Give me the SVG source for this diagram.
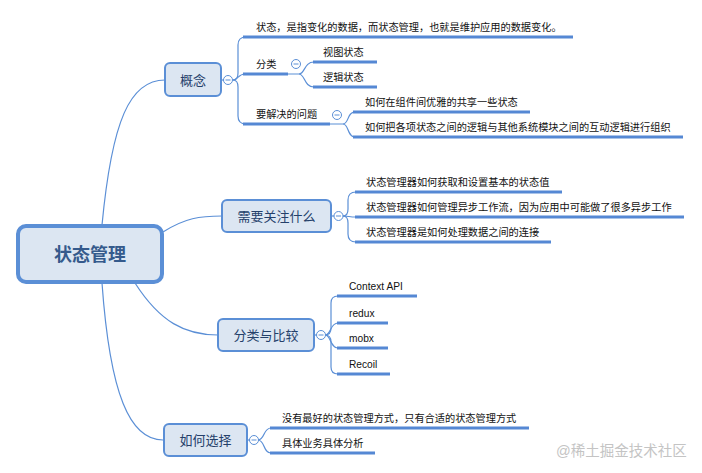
<svg xmlns="http://www.w3.org/2000/svg" width="702" height="473" viewBox="0 0 702 473">
<style>
.c{fill:none;stroke:#5b8fd6;stroke-width:1.2}
.u{fill:none;stroke:#5588d4;stroke-width:3}
.box{fill:#dce6f2;stroke:#5b8fd6;stroke-width:2}
.t{font-family:"Liberation Sans","Noto Sans CJK SC",sans-serif;font-size:10.2px;fill:#111}
.m{font-family:"Liberation Sans","Noto Sans CJK SC",sans-serif;font-size:13px;fill:#24406a;text-anchor:middle}
.r{font-family:"Liberation Sans","Noto Sans CJK SC",sans-serif;font-size:18px;font-weight:bold;fill:#355a8c;text-anchor:middle}
.tg circle{fill:#fff;stroke:#5b8fd6;stroke-width:1}
.tg line{stroke:#5b8fd6;stroke-width:1}
</style>
<rect width="702" height="473" fill="#fff"/>
<g id="connectors">
<path class="c" d="M102,225 C112,120 130,80 165,80"/>
<path class="c" d="M163,232 C185,218 200,216 222,216"/>
<path class="c" d="M135,283 C160,322 185,335 218,335"/>
<path class="c" d="M102,283 C110,395 130,440 163,440"/>
<path class="c" d="M221,80 H224"/>
<path class="c" d="M233,80 Q238,80 238,73 V45 Q238,37 246,37"/>
<path class="c" d="M233,80 C238,80 238,74 245,74"/>
<path class="c" d="M233,80 Q238,80 238,87 V116 Q238,124 246,124"/>
<path class="c" d="M288,74 H299 C305,74 304,62 314,62"/>
<path class="c" d="M299,74 C305,74 304,87 314,87"/>
<path class="c" d="M330,124 H343 C349,124 347,112 355,112"/>
<path class="c" d="M343,124 C349,124 347,137 355,137"/>
<path class="c" d="M331,216 H334"/>
<path class="c" d="M343,216 Q348,216 348,209 V200 Q348,192 356,192"/>
<path class="c" d="M343,216 C349,216 349,217 356,217"/>
<path class="c" d="M343,216 Q348,216 348,223 V234 Q348,242 356,242"/>
<path class="c" d="M314,335 H317"/>
<path class="c" d="M325,335 Q331,335 331,328 V303 Q331,296 338,296"/>
<path class="c" d="M325,335 C331,335 330,323 338,323"/>
<path class="c" d="M325,335 C331,335 330,348 338,348"/>
<path class="c" d="M325,335 Q331,335 331,342 V367 Q331,374 338,374"/>
<path class="c" d="M247,440 H250"/>
<path class="c" d="M258,440 C265,440 263,428 271,428"/>
<path class="c" d="M258,440 C265,440 263,453 271,453"/>
</g>
<g id="root">
<rect x="18" y="226" width="144" height="56" rx="8" fill="#dce6f2" stroke="#5b8fd6" stroke-width="4"/>
<text class="r" x="90" y="261">状态管理</text>
</g>
<g id="n-gainian">
<rect class="box" x="165" y="63" width="56" height="33" rx="5"/>
<text class="m" x="193" y="85">概念</text>
<g class="tg"><circle cx="228" cy="80" r="4.5"/><line x1="225.5" y1="80" x2="230.5" y2="80"/></g>
</g>
<g id="n-c1"><text class="t" x="256" y="31">状态，是指变化的数据，而状态管理，也就是维护应用的数据变化。</text><path class="u" d="M243,37 H573"/></g>
<g id="n-fenlei"><text class="t" x="256" y="68">分类</text><path class="u" d="M243,74 H288"/>
<g class="tg"><circle cx="296" cy="64" r="4.5"/><line x1="293.5" y1="64" x2="298.5" y2="64"/></g></g>
<g id="n-shitu"><text class="t" x="323" y="56">视图状态</text><path class="u" d="M313,62 H377"/></g>
<g id="n-luoji"><text class="t" x="323" y="81">逻辑状态</text><path class="u" d="M313,87 H377"/></g>
<g id="n-wenti"><text class="t" x="256" y="118">要解决的问题</text><path class="u" d="M243,124 H330"/>
<g class="tg"><circle cx="337" cy="115" r="4.5"/><line x1="334.5" y1="115" x2="339.5" y2="115"/></g></g>
<g id="n-w1"><text class="t" x="365" y="106">如何在组件间优雅的共享一些状态</text><path class="u" d="M353,112 H530"/></g>
<g id="n-w2"><text class="t" x="365" y="131">如何把各项状态之间的逻辑与其他系统模块之间的互动逻辑进行组织</text><path class="u" d="M353,137 H683"/></g>
<g id="n-guanzhu">
<rect class="box" x="222" y="200" width="109" height="32" rx="5"/>
<text class="m" x="276.5" y="221">需要关注什么</text>
<g class="tg"><circle cx="338.5" cy="216" r="4.5"/><line x1="336" y1="216" x2="341" y2="216"/></g>
</g>
<g id="n-g1"><text class="t" x="366" y="186">状态管理器如何获取和设置基本的状态值</text><path class="u" d="M355,192 H562"/></g>
<g id="n-g2"><text class="t" x="366" y="211">状态管理器如何管理异步工作流，因为应用中可能做了很多异步工作</text><path class="u" d="M355,217 H684"/></g>
<g id="n-g3"><text class="t" x="366" y="236">状态管理器是如何处理数据之间的连接</text><path class="u" d="M355,242 H551"/></g>
<g id="n-bijiao">
<rect class="box" x="218" y="319" width="96" height="32" rx="5"/>
<text class="m" x="266" y="340">分类与比较</text>
<g class="tg"><circle cx="321" cy="335" r="4.5"/><line x1="318.5" y1="335" x2="323.5" y2="335"/></g>
</g>
<g id="n-b1"><text class="t" x="349" y="290" font-size="10.5">Context API</text><path class="u" d="M337,296 H417"/></g>
<g id="n-b2"><text class="t" x="349" y="317" font-size="10.5">redux</text><path class="u" d="M337,323 H388"/></g>
<g id="n-b3"><text class="t" x="349" y="342" font-size="10.5">mobx</text><path class="u" d="M337,348 H388"/></g>
<g id="n-b4"><text class="t" x="349" y="368" font-size="10.5">Recoil</text><path class="u" d="M337,374 H390"/></g>
<g id="n-xuanze">
<rect class="box" x="164" y="424" width="83" height="32" rx="5"/>
<text class="m" x="205.5" y="445">如何选择</text>
<g class="tg"><circle cx="254" cy="440" r="4.5"/><line x1="251.5" y1="440" x2="256.5" y2="440"/></g>
</g>
<g id="n-x1"><text class="t" x="282" y="422">没有最好的状态管理方式，只有合适的状态管理方式</text><path class="u" d="M270,428 H529"/></g>
<g id="n-x2"><text class="t" x="282" y="447">具体业务具体分析</text><path class="u" d="M270,453 H375"/></g>
<text x="556" y="456" font-family="'Liberation Sans','Noto Sans CJK SC',sans-serif" font-size="14.5" fill="#c4c4c4">@稀土掘金技术社区</text>
</svg>
